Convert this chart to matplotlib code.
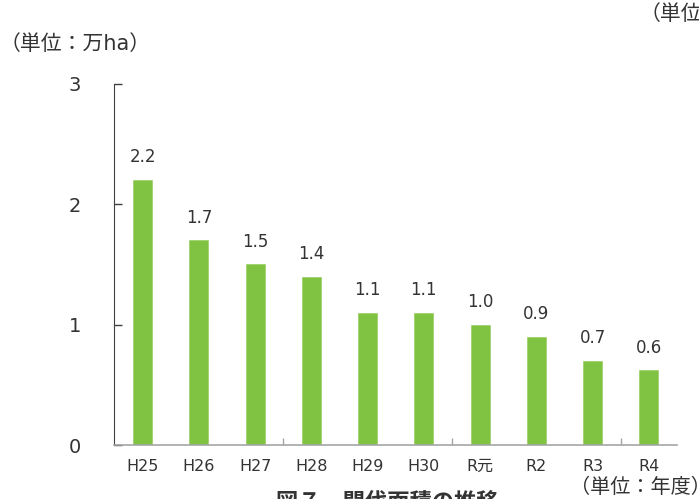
import matplotlib
matplotlib.use('Agg')
import matplotlib.pyplot as plt

# data
years = ['H25', 'H26', 'H27', 'H28', 'H29', 'H30', 'R元', 'R2', 'R3', 'R4']
area = [2.2, 1.7, 1.5, 1.4, 1.1, 1.1, 1.0, 0.9, 0.7, 0.62]
area_labels = ['2.2', '1.7', '1.5', '1.4', '1.1', '1.1', '1.0', '0.9', '0.7', '0.6']
yticks = [0, 1, 2, 3]

FONTS = ['DejaVu Sans', 'Noto Sans CJK JP']
plt.rcParams['font.family'] = FONTS
txt = '#333333'

fig = plt.figure(figsize=(6.99, 4.99), dpi=100)
ax = fig.add_axes([0.1638, 0.1082, 0.8047, 0.7235])

x = list(range(len(years)))
ax.bar(x, area, width=0.34, color='#80c242', edgecolor='#8fcc55', linewidth=0.4)

# value labels above bars
for xi, v, lab in zip(x, area, area_labels):
    ax.annotate(lab, (xi, v), xytext=(0, 10), textcoords='offset points',
                ha='center', va='bottom', fontsize=12, color=txt)

ax.set_xlim(-0.5, len(years) - 0.5)
ax.set_ylim(0, 3)

ax.set_yticks(yticks)
ax.set_yticklabels([str(t) for t in yticks], fontsize=14, color=txt)
ax.tick_params(axis='y', direction='in', length=6, width=1, color='#404040', pad=24)

ax.set_xticks(x)
ax.set_xticklabels(years, fontsize=11.5, color=txt)
ax.tick_params(axis='x', which='major', length=0, pad=10)
ax.set_xticks([2.5, 5.5, 8.5], minor=True)
ax.tick_params(axis='x', which='minor', direction='in', length=5, width=1, color='#a6a6a6')

for s in ['top', 'right']:
    ax.spines[s].set_visible(False)
ax.spines['left'].set_color('#404040')
ax.spines['bottom'].set_color('#a6a6a6')
ax.spines['bottom'].set_linewidth(1.2)

# unit notes and the caption, which the reference crops at the edges
fig.text(0.0, 1 - 44 / 499, '（単位：万ha）', fontsize=15, color=txt, va='center', ha='left')
fig.text(640 / 699, 1 - 14 / 499, '（単位：万ha）', fontsize=15, color=txt, va='center', ha='left')
fig.text(570 / 699, 1 - 487 / 499, '（単位：年度）', fontsize=14.5, color=txt, va='center', ha='left')
fig.text(387 / 699, 1 - 493 / 499, '図７　間伐面積の推移', fontsize=16, fontweight='bold',
         color=txt, va='top', ha='center')

fig.savefig('out.png', dpi=100)
